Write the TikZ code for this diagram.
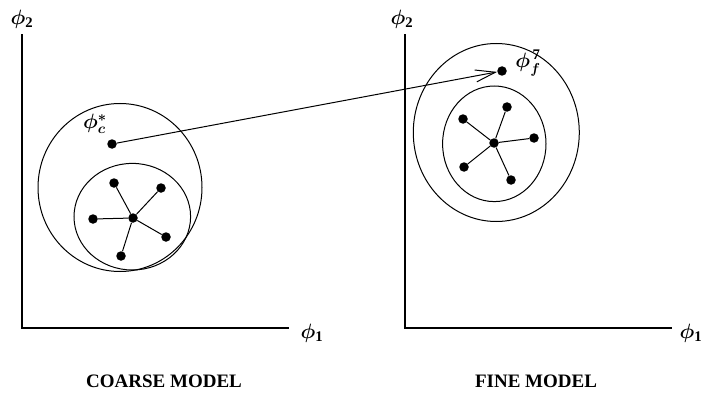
\documentclass[tikz,border=0pt]{standalone}
\usepackage{amsmath}
\usepackage{bm}
\usepackage{fontspec}
\setmainfont{Liberation Serif}
\usetikzlibrary{arrows.meta}
\tikzset{
  axis/.style={line width=2pt, line cap=rect},
  region/.style={line width=1pt},
  pt/.style={circle, fill=black, inner sep=0pt, minimum size=9.5pt},
  spoke/.style={line width=1pt},
  philbl/.style={font=\fontsize{21}{24}\selectfont, inner sep=0pt},
  title/.style={font=\fontsize{19}{22}\selectfont\bfseries, inner sep=0pt},
  jump/.style={line width=1pt, -{Straight Barb[length=20pt,width=12pt,line width=1pt]}}
}
\begin{document}
\begin{tikzpicture}[x=1pt,y=-1pt]
\useasboundingbox (0,0) rectangle (702,404);
% ---- coarse model axes
\coordinate (lo) at (22,328);
\coordinate (ly) at (22,35);
\coordinate (lx) at (288,328);
\draw[axis] (ly) -- (lo) -- (lx);
\node[philbl] (lphi2) at (22,19) {$\bm{\phi}_{\mathbf 2}$};
\node[philbl] (lphi1) at (312,333) {$\bm{\phi}_{\mathbf 1}$};
% ---- fine model axes
\coordinate (ro) at (405,328);
\coordinate (ry) at (405,35);
\coordinate (rx) at (671,328);
\draw[axis] (ry) -- (ro) -- (rx);
\node[philbl] (rphi2) at (402,19) {$\bm{\phi}_{\mathbf 2}$};
\node[philbl] (rphi1) at (691,333) {$\bm{\phi}_{\mathbf 1}$};
% ---- coarse regions
\draw[region] (120,187.5) ellipse [x radius=82, y radius=84];
\draw[region] (132.3,216.7) ellipse [x radius=58.3, y radius=53.3];
% ---- fine regions
\draw[region] (496.3,132.5) ellipse [x radius=83, y radius=89];
\draw[region] (494.3,143.8) ellipse [x radius=51.7, y radius=57.8];
% ---- coarse star
\node[pt] (lc) at (133,218) {};
\node[pt] (l1) at (114,183) {};
\node[pt] (l2) at (161,188) {};
\node[pt] (l3) at (93,219) {};
\node[pt] (l4) at (166,237) {};
\node[pt] (l5) at (121,256) {};
\foreach \n in {l1,l2,l3,l4,l5} \draw[spoke] (lc) -- (\n);
% ---- fine star
\node[pt] (rc) at (494,143) {};
\node[pt] (r1) at (507,107) {};
\node[pt] (r2) at (463,119) {};
\node[pt] (r3) at (534,138) {};
\node[pt] (r4) at (464,167) {};
\node[pt] (r5) at (511,180) {};
\foreach \n in {r1,r2,r3,r4,r5} \draw[spoke] (rc) -- (\n);
% ---- optimum points
\node[pt] (pc) at (112,144) {};
\node[philbl] (pclbl) at (95,124) {$\bm{\phi}_{\bm c}^{\bm *}$};
\node[pt] (pf) at (502,71) {};
\node[philbl] (pflbl) at (528,63) {$\bm{\phi}_{\bm f}^{\,\mathbf 7}$};
\draw[jump] (pc) -- (pf);
% ---- titles
\node[title] (tc) at (164,381) {COARSE MODEL};
\node[title] (tf) at (536,381) {FINE MODEL};
\end{tikzpicture}
\end{document}
